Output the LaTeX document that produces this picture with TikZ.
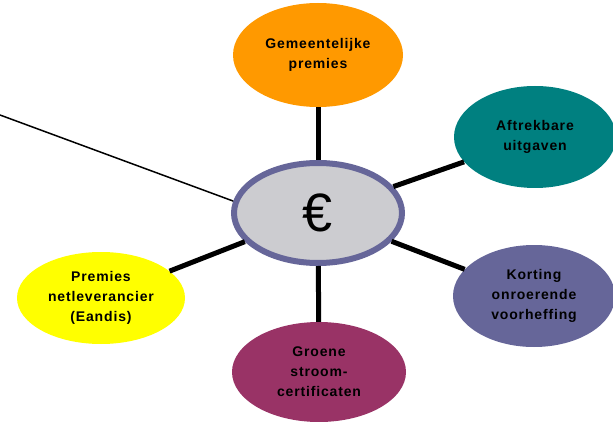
\documentclass[tikz,border=0pt]{standalone}
\usepackage{fontspec}
\setmainfont{Liberation Sans}
\newfontfamily\lblfont[LetterSpace=6]{Liberation Sans}
\usetikzlibrary{shapes.geometric}
\definecolor{orangeA}{HTML}{FF9900}
\definecolor{tealA}{HTML}{008080}
\definecolor{purpleA}{HTML}{666699}
\definecolor{yellowA}{HTML}{FFFF00}
\definecolor{magentaA}{HTML}{993366}
\definecolor{greyA}{HTML}{CCCCD0}
\tikzset{
  bubble/.style={ellipse, inner sep=0pt, align=center, text=black,
    font=\lblfont\bfseries\fontsize{14}{20}\selectfont},
  spoke/.style={line width=5pt, black},
}
\begin{document}
\begin{tikzpicture}[x=1pt,y=-1pt]
\useasboundingbox (0,0) rectangle (613,422);
\node[bubble, fill=orangeA, minimum width=170pt, minimum height=104pt] (gem) at (318,55) {Gemeentelijke\\premies};
\node[bubble, fill=tealA, minimum width=162pt, minimum height=102pt] (aft) at (535,137) {Aftrekbare\\uitgaven};
\node[bubble, fill=purpleA, minimum width=162pt, minimum height=102pt] (kor) at (534,296) {Korting\\onroerende\\voorheffing};
\node[bubble, fill=yellowA, minimum width=168pt, minimum height=92pt] (pre) at (101,298) {Premies\\netleverancier\\(Eandis)};
\node[bubble, fill=magentaA, minimum width=174pt, minimum height=100pt] (gro) at (319,372) {Groene\\stroom-\\certificaten};
\node[ellipse, draw=purpleA, line width=6pt, fill=greyA, minimum width=168pt, minimum height=100pt, inner sep=0pt,
  font=\fontsize{54}{60}\selectfont] (eur) at (318,213) {€};
\coordinate (lt) at (0,115);
\draw[spoke] (eur) -- (gem);
\draw[spoke] (eur) -- (aft);
\draw[spoke] (eur) -- (kor);
\draw[spoke] (eur) -- (pre);
\draw[spoke] (eur) -- (gro);
\draw[line width=1.5pt, black] (lt) -- (eur.172);
\end{tikzpicture}
\end{document}
